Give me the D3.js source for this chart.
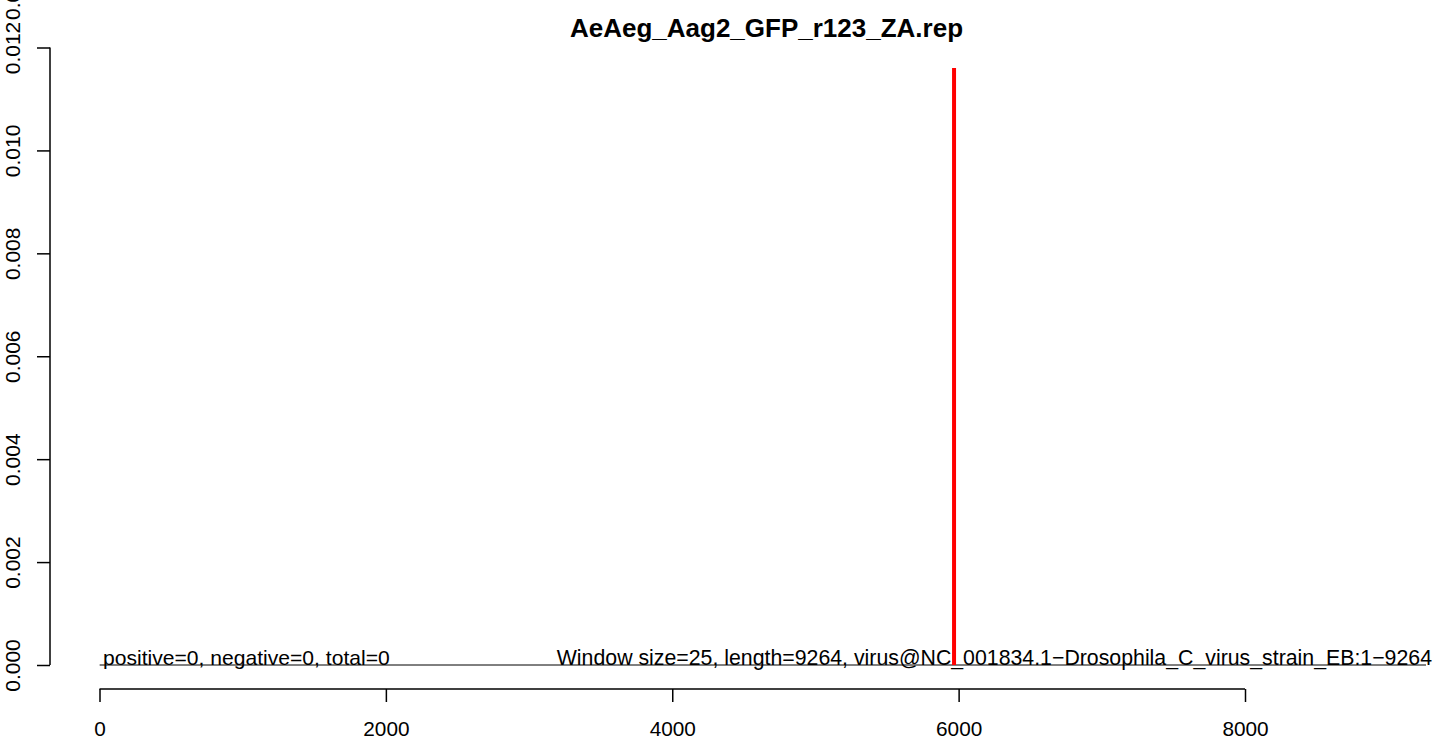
<!DOCTYPE html>
<html>
<head>
<meta charset="utf-8">
<script src="https://cdn.jsdelivr.net/npm/d3@7"></script>
<style>
  html, body { margin: 0; padding: 0; background: #fff; overflow: hidden; }
  svg { display: block; }
  text { font-family: "Liberation Sans", Arial, Helvetica, sans-serif; fill: #000; }
</style>
</head>
<body>
<svg id="chart" width="1439" height="740"></svg>
<script>
// ---- data ----
const title = "AeAeg_Aag2_GFP_r123_ZA.rep";
const genomeLength = 9264;
const xTicks = [0, 2000, 4000, 6000, 8000];
const yTicks = [0, 0.002, 0.004, 0.006, 0.008, 0.010, 0.012];
const yTickLabels = ["0.000", "0.002", "0.004", "0.006", "0.008", "0.010", "0.012"];
const yOverflowLabel = "0.014";
// coverage line (all zero): [position, value]
const positiveCoverage = [[1, 0], [genomeLength, 0]];
// marker line
const markerPos = [5968];
const markerTop = [0.0116];
const leftNote = "positive=0, negative=0, total=0";
const rightNote = "Window size=25, length=9264, virus@NC_001834.1\u2212Drosophila_C_virus_strain_EB:1\u22129264";

// ---- layout ----
const svg = d3.select("#chart");
const x = d3.scaleLinear().domain([0, 8000]).range([99.5, 1245]);
const y = d3.scaleLinear().domain([0, 0.012]).range([665, 47.5]);
const yAxisX = 50;
const xAxisY = 689;
const tickLen = 13;

// title
svg.append("text")
  .attr("x", 766.5).attr("y", 37)
  .attr("text-anchor", "middle")
  .style("font-size", "26px").style("font-weight", "bold")
  .text(title);

// y axis
const yAxis = d3.axisLeft(y).tickValues(yTicks).tickSize(tickLen).tickFormat((d, i) => yTickLabels[i]);
const gy = svg.append("g").attr("transform", `translate(${yAxisX},0)`).call(yAxis);
gy.select(".domain").attr("d", `M0,${y(0)}V${y(0.012)}`).attr("stroke", "#000").attr("stroke-width", 1.5);
gy.selectAll(".tick line").attr("stroke", "#000").attr("stroke-width", 1.5);
gy.selectAll(".tick text")
  .attr("x", null).attr("dy", null)
  .attr("text-anchor", "middle")
  .attr("transform", `translate(${20 - yAxisX},0) rotate(-90)`)
  .style("font-size", "21px");
// overflow label above the top tick (clipped by the page edge)
svg.append("text")
  .attr("transform", `translate(20,${y(0.012) - 27.5}) rotate(-90)`)
  .attr("text-anchor", "start")
  .style("font-size", "21px")
  .text(yOverflowLabel);

// x axis
const xAxis = d3.axisBottom(x).tickValues(xTicks).tickSize(tickLen).tickFormat(d3.format("d"));
const gx = svg.append("g").attr("transform", `translate(0,${xAxisY})`).call(xAxis);
gx.select(".domain").attr("d", `M${x(0)},0H${x(8000)}`).attr("stroke", "#000").attr("stroke-width", 1.5);
gx.selectAll(".tick line").attr("stroke", "#000").attr("stroke-width", 1.5);
gx.selectAll(".tick text")
  .attr("y", 46.5).attr("dy", null)
  .style("font-size", "20.8px");

// coverage line
svg.append("path")
  .datum(positiveCoverage)
  .attr("fill", "none").attr("stroke", "#000").attr("stroke-width", 1)
  .attr("d", d3.line().x(d => x(d[0])).y(d => y(d[1])));

// red marker
svg.selectAll(".marker").data(markerPos).enter().append("line")
  .attr("class", "marker")
  .attr("x1", d => x(d)).attr("x2", d => x(d))
  .attr("y1", y(0)).attr("y2", (d, i) => y(markerTop[i]))
  .attr("stroke", "#ff0000").attr("stroke-width", 4);

// notes
svg.append("text")
  .attr("x", x(0) + 3.5).attr("y", y(0) - 0.5)
  .attr("text-anchor", "start")
  .style("font-size", "21.1px")
  .text(leftNote);
svg.append("text")
  .attr("x", x(genomeLength) + 6).attr("y", y(0) - 0.5)
  .attr("text-anchor", "end")
  .style("font-size", "21.3px")
  .text(rightNote);
</script>
</body>
</html>
